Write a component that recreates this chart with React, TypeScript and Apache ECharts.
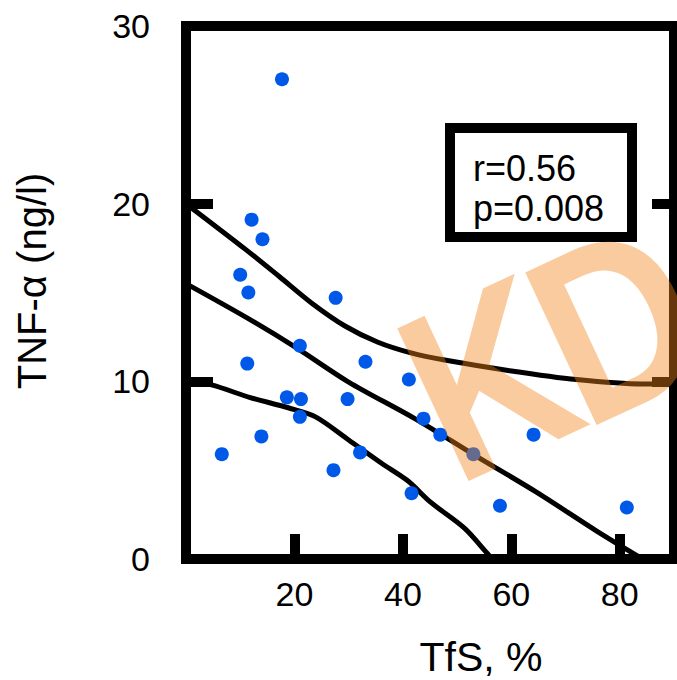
import React, { useEffect, useRef } from "react";
import * as echarts from "echarts";

// Scatter points: TfS (%) vs TNF-α (ng/l)
const tfs = [17.7, 12.1, 14.1, 10.0, 11.5, 27.6, 21.0, 33.1, 11.3, 41.1, 18.6, 21.2, 29.8, 21.0, 43.8, 46.9, 13.9, 64.1, 6.6, 32.1, 53.0, 27.2, 41.6, 57.9, 81.3];
const tnf = [27.0, 19.1, 18.0, 16.0, 15.0, 14.7, 12.0, 11.1, 11.0, 10.1, 9.1, 9.0, 9.0, 8.0, 7.9, 7.0, 6.9, 7.0, 5.9, 6.0, 5.9, 5.0, 3.7, 3.0, 2.9];

// Regression line
const fitX = [0, 11.1, 20.3, 30.0, 42.2, 53.2, 64.7, 75.6, 84.2];
const fitY = [15.5, 13.6, 11.9, 9.96, 7.9, 5.85, 3.75, 1.6, 0];

// Upper confidence band
const upX = [0, 11.1, 17.2, 23.2, 29.4, 35.4, 41.5, 47.7, 59.7, 72.0, 84.2, 90];
const upY = [20.0, 17.4, 15.9, 14.4, 13.1, 12.2, 11.6, 11.2, 10.6, 10.1, 9.85, 9.85];

// Lower confidence band
const loX = [0, 4.7, 11.7, 19.0, 23.9, 30.0, 36.0, 40.9, 45.1, 51.3, 55.5, 56.5];
const loY = [10.0, 9.8, 9.1, 8.5, 8.0, 6.7, 5.4, 4.4, 3.2, 1.75, 0.34, 0];

const xTickValues = [0, 20, 40, 60, 80];
const yTickValues = [0, 10, 20, 30];

const statLines = ["r=0.56", "p=0.008"];
const xTitle = "TfS, %";
const yTitle = "TNF-α (ng/l)";
const watermark = ["K", "D"];

const FONT = "'Liberation Sans', Arial, Helvetica, sans-serif";

const zip = (xs: number[], ys: number[]) => xs.map((x, i) => [x, ys[i]]);

export default function App() {
  const ref = useRef<HTMLDivElement>(null);

  useEffect(() => {
    if (!ref.current) return;
    const chart = echarts.init(ref.current, undefined, { renderer: "svg" });
    const lineStyle = { color: "#000", width: 5 };
    const axisLine = { show: true, onZero: false, lineStyle: { color: "#000", width: 10, cap: "square" } };
    const option: any = {
      animation: false,
      backgroundColor: "#fff",
      grid: { left: 186, top: 26, width: 493, height: 533, containLabel: false },
      xAxis: [
        {
          type: "value",
          position: "bottom",
          min: 0,
          max: 90,
          interval: 20,
          axisLine,
          axisTick: { show: true, inside: true, length: 25, lineStyle: { color: "#000", width: 10 } },
          axisLabel: {
            show: true,
            margin: 18,
            fontSize: 34,
            color: "#000",
            fontFamily: FONT,
            formatter: (v: number) => (xTickValues.includes(v) && v !== 0 ? String(v) : ""),
          },
          splitLine: { show: false },
        },
        {
          type: "value",
          position: "top",
          min: 0,
          max: 90,
          interval: 20,
          axisLine,
          axisTick: { show: false },
          axisLabel: { show: false },
          splitLine: { show: false },
        },
      ],
      yAxis: [
        {
          type: "value",
          position: "left",
          min: 0,
          max: 30,
          interval: 10,
          axisLine,
          axisTick: { show: true, inside: true, length: 27, lineStyle: { color: "#000", width: 10 } },
          axisLabel: {
            show: true,
            margin: 36,
            fontSize: 34,
            color: "#000",
            fontFamily: FONT,
            formatter: (v: number) => (yTickValues.includes(v) ? String(v) : ""),
          },
          splitLine: { show: false },
        },
        {
          type: "value",
          position: "right",
          min: 0,
          max: 30,
          interval: 10,
          axisLine,
          axisTick: { show: true, inside: true, length: 22, lineStyle: { color: "#000", width: 10 } },
          axisLabel: { show: false },
          splitLine: { show: false },
        },
      ],
      series: [
        { type: "line", data: zip(upX, upY), smooth: 0.3, symbol: "none", lineStyle, z: 3, clip: true },
        { type: "line", data: zip(fitX, fitY), smooth: 0.3, symbol: "none", lineStyle, z: 3, clip: true },
        { type: "line", data: zip(loX, loY), smooth: 0.3, symbol: "none", lineStyle, z: 3, clip: true },
        {
          type: "scatter",
          data: zip(tfs, tnf),
          symbol: "circle",
          symbolSize: 14,
          itemStyle: { color: "#0058e8", opacity: 1 },
          z: 5,
        },
      ],
      graphic: [
        {
          type: "rect",
          z: 50,
          shape: { x: 450, y: 128, width: 182, height: 109 },
          style: { fill: "#fff", stroke: "#000", lineWidth: 10 },
        },
        {
          type: "text",
          z: 51,
          x: 473,
          y: 168,
          style: { text: statLines[0], fontSize: 36, fontFamily: FONT, fill: "#000", align: "left", verticalAlign: "middle" },
        },
        {
          type: "text",
          z: 51,
          x: 473,
          y: 208,
          style: { text: statLines[1], fontSize: 36, fontFamily: FONT, fill: "#000", align: "left", verticalAlign: "middle" },
        },
        {
          type: "text",
          z: 51,
          x: 481,
          y: 657,
          style: { text: xTitle, fontSize: 41, fontFamily: FONT, fill: "#000", align: "center", verticalAlign: "middle" },
        },
        {
          type: "text",
          z: 51,
          x: 32,
          y: 281,
          rotation: Math.PI / 2,
          style: { text: yTitle, fontSize: 40, fontFamily: FONT, fill: "#000", align: "center", verticalAlign: "middle" },
        },
        {
          type: "text",
          z: 100,
          x: 488,
          y: 378,
          rotation: (25 * Math.PI) / 180,
          scaleX: 0.85,
          style: { text: watermark[0], fontSize: 245, fontWeight: "bold", fontFamily: FONT, fill: "#F08219", opacity: 0.42, align: "center", verticalAlign: "middle" },
        },
        {
          type: "text",
          z: 100,
          x: 616,
          y: 322,
          rotation: (25 * Math.PI) / 180,
          scaleX: 0.85,
          style: { text: watermark[1], fontSize: 245, fontWeight: "bold", fontFamily: FONT, fill: "#F08219", opacity: 0.42, align: "center", verticalAlign: "middle" },
        },
      ],
    };
    chart.setOption(option);
    return () => chart.dispose();
  }, []);

  return (
    <div
      ref={ref}
      style={{ position: "absolute", left: 0, top: 0, width: 677, height: 680, overflow: "hidden" }}
    />
  );
}
